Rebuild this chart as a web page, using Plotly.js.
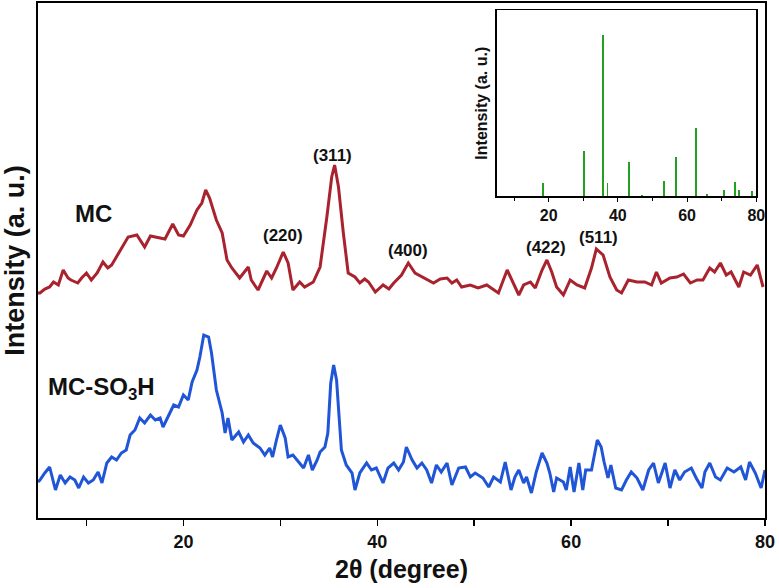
<!DOCTYPE html>
<html><head><meta charset="utf-8">
<script src="https://cdn.plot.ly/plotly-3.0.1.min.js"></script>
<style>html,body{margin:0;padding:0;background:#fff}#g{width:779px;height:588px}</style>
</head><body><div id="g"></div>
<script>
const mcX = [5.0,5.2,5.7,6.2,6.6,7.1,7.6,8.1,8.4,9.1,9.5,10.0,10.5,11.1,11.7,12.2,12.6,13.5,14.3,15.2,16.0,16.6,17.2,18.1,18.9,19.5,20.0,20.7,21.4,21.9,22.3,22.7,23.4,24.0,24.5,25.0,25.8,26.7,27.0,27.7,28.6,29.1,29.6,30.3,30.8,31.3,32.0,32.5,33.4,34.1,34.8,35.3,35.6,36.0,36.5,37.0,37.7,38.2,38.7,39.1,39.8,40.6,41.2,41.7,42.5,43.2,43.9,44.8,45.3,45.8,46.5,47.2,47.7,48.2,48.7,49.6,50.4,51.3,51.9,52.5,53.4,54.0,54.6,55.1,55.8,56.3,57.0,57.5,58.0,58.5,59.2,59.9,60.6,61.4,62.1,62.6,63.3,64.0,64.7,65.2,65.9,66.8,67.6,68.3,68.8,69.3,70.2,70.9,71.6,72.3,73.0,73.6,74.3,74.8,75.4,76.0,76.5,77.3,77.8,78.5,79.2,79.8];
const mcY = [225,225,229,231,236,233,248,240,238,235,240,245,238,245,256,250,253,268,281,283,271,282,281,279,294,283,282,293,308,315,328,320,298,285,258,250,240,251,238,228,247,240,250,266,255,228,236,231,236,251,301,341,353,331,285,245,241,235,239,236,226,233,229,235,243,255,245,240,237,235,239,240,235,238,231,233,230,233,229,225,248,236,223,233,236,230,248,258,246,231,223,238,233,230,250,269,263,241,228,225,238,236,236,233,246,235,240,241,244,235,238,238,250,246,255,243,246,231,246,243,253,231];

const soX = [5.0,5.2,5.7,6.2,6.8,7.3,7.8,8.3,8.8,9.2,9.7,10.2,10.7,11.2,11.6,12.1,12.6,13.1,13.6,14.1,14.5,15.0,15.5,16.0,16.6,17.1,17.6,17.9,18.4,19.0,19.5,20.0,20.5,20.9,21.4,21.7,22.1,22.6,22.9,23.4,24.0,24.3,24.6,25.0,25.7,26.2,26.7,27.2,27.9,28.4,28.9,29.2,29.6,30.0,30.5,30.8,31.3,31.9,32.4,32.9,33.3,33.8,34.1,34.6,34.9,35.2,35.5,35.8,36.1,36.3,36.8,37.4,37.7,38.2,38.9,39.4,39.9,40.6,41.1,41.7,42.2,42.7,43.0,43.6,44.1,44.6,45.1,45.6,46.1,46.6,47.2,47.7,48.4,49.1,49.6,50.1,50.9,51.5,52.0,52.7,53.2,53.8,54.2,54.6,55.1,55.4,55.9,56.4,57.0,57.5,57.8,58.2,58.5,59.2,59.5,59.9,60.3,60.8,61.2,61.5,62.1,62.7,63.1,63.4,63.8,64.1,64.6,65.2,65.7,66.2,66.8,67.4,68.0,68.5,69.0,69.7,70.2,70.7,71.2,71.7,72.4,72.9,73.5,73.8,74.3,74.9,75.4,76.1,76.8,77.5,78.0,78.4,79.0,79.6,80.0];
const soY = [36,38,45,51,28,43,35,41,38,30,41,35,38,46,35,55,61,58,65,68,83,88,100,95,103,98,100,91,101,113,111,123,118,136,148,161,183,181,165,128,105,85,100,78,86,76,83,75,70,63,70,61,78,93,80,61,63,56,50,63,48,58,66,71,85,135,153,138,98,68,53,45,28,45,55,48,50,35,50,55,48,56,71,58,50,55,48,35,53,46,55,33,50,51,41,45,40,31,41,36,56,28,41,48,35,41,25,46,65,55,45,26,40,36,28,51,26,55,28,48,48,78,71,56,40,53,30,28,38,46,40,28,48,55,35,55,30,48,38,46,50,40,30,46,55,41,38,50,46,51,38,56,45,30,48];

const refX = [18.3,30.1,35.6,37.0,43.1,47.0,53.3,56.9,62.5,65.7,70.8,73.8,74.9,78.8];
const refY = [7.9,28,100,7.9,21.5,1,9.5,24.4,42.4,1.2,3.7,8.7,3.7,3.3];

const peakLabels = ['(220)','(311)','(400)','(422)','(511)'];
const peakLabelX = [30.3,35.4,43.2,57.4,62.8];
const peakLabelY = [283,363,268,271,281];

const seriesNames = ['MC','MC-SO<sub>3</sub>H'];
const seriesLabelX = [10.7,11.6];
const seriesLabelY = [305,130];

const bold = {family:'Arial, Liberation Sans, sans-serif', weight:'bold', color:'#111'};

const traces = [
  {x:mcX, y:mcY, type:'scatter', mode:'lines', line:{color:'#a8232d', width:3}, xaxis:'x', yaxis:'y', hoverinfo:'skip'},
  {x:soX, y:soY, type:'scatter', mode:'lines', line:{color:'#1f55d6', width:3}, xaxis:'x', yaxis:'y', hoverinfo:'skip'},
  {x:refX, y:refY, type:'bar', width:0.55, marker:{color:'#22a022', line:{width:0}}, xaxis:'x2', yaxis:'y2', hoverinfo:'skip'}
];

const annotations = [];
peakLabels.forEach((t,i)=>annotations.push({x:peakLabelX[i], y:peakLabelY[i], xref:'x', yref:'y', text:t, showarrow:false, font:Object.assign({}, bold, {size:17})}));
seriesNames.forEach((t,i)=>annotations.push({x:seriesLabelX[i], y:seriesLabelY[i], xref:'x', yref:'y', text:t, showarrow:false, font:Object.assign({}, bold, {size:24})}));

const layout = {
  width:779, height:588,
  margin:{l:38, r:14, t:3, b:70},
  paper_bgcolor:'#fff', plot_bgcolor:'#fff',
  showlegend:false, bargap:0,
  xaxis:{domain:[0,1], range:[5,80], showgrid:false, zeroline:false, showline:true, linecolor:'#000', linewidth:2, mirror:true,
    ticks:'outside', ticklen:6, tickwidth:1.5, tickcolor:'#000', tick0:0, dtick:20,
    minor:{dtick:10, ticks:'outside', ticklen:6, tickwidth:1.5, tickcolor:'#000'},
    tickfont:Object.assign({}, bold, {size:18}),
    title:{text:'2θ (degree)', font:Object.assign({}, bold, {size:25}), standoff:10}},
  yaxis:{domain:[0,1], range:[0,515], showgrid:false, zeroline:false, showline:true, linecolor:'#000', linewidth:2, mirror:true,
    ticks:'', showticklabels:false,
    title:{text:'Intensity (a. u.)', font:Object.assign({}, bold, {size:27}), standoff:6}},
  xaxis2:{domain:[0.631,0.988], anchor:'y2', range:[5,80], showgrid:false, zeroline:false, showline:true, linecolor:'#000', linewidth:1.5, mirror:true,
    ticks:'outside', ticklen:4, tickwidth:1, tickcolor:'#000', tick0:0, dtick:20,
    minor:{dtick:10, ticks:'outside', ticklen:3, tickwidth:1, tickcolor:'#000'},
    tickfont:Object.assign({}, bold, {size:16})},
  yaxis2:{domain:[0.625,0.986], anchor:'x2', range:[0,115.5], showgrid:false, zeroline:false, showline:true, linecolor:'#000', linewidth:1.5, mirror:true,
    ticks:'', showticklabels:false,
    title:{text:'Intensity (a. u.)', font:Object.assign({}, bold, {size:16}), standoff:3}},
  annotations:annotations
};
Plotly.newPlot('g', traces, layout, {staticPlot:true, displayModeBar:false});
</script></body></html>
